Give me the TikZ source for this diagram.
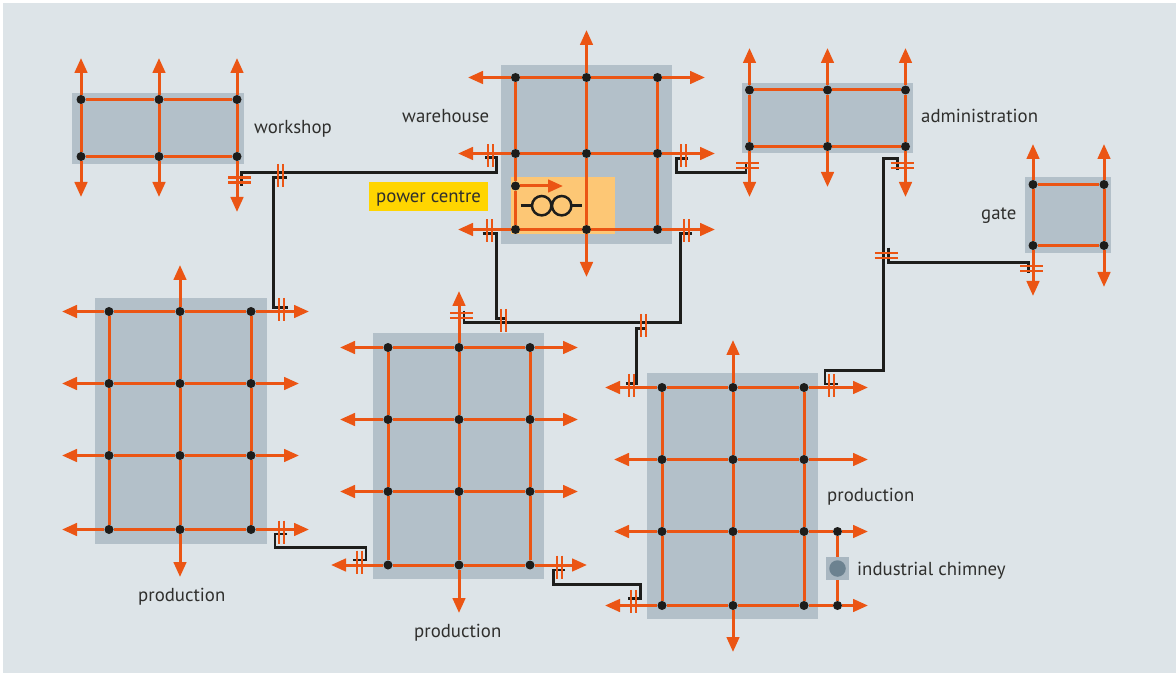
\documentclass[tikz,border=0pt]{standalone}
\usepackage{fontspec}
\setmainfont{PT Sans}
\usetikzlibrary{arrows.meta}
\definecolor{bgc}{HTML}{DDE4E8}
\definecolor{bld}{HTML}{B3C0C9}
\definecolor{org}{HTML}{EB5514}
\definecolor{blk}{HTML}{1D1D1B}
\definecolor{pwr}{HTML}{FDC775}
\definecolor{yel}{HTML}{FFD500}
\definecolor{chs}{HTML}{A9B7C1}
\definecolor{chd}{HTML}{6C8290}
\pgfdeclarelayer{back}
\pgfdeclarelayer{wires}
\pgfdeclarelayer{orange}
\pgfsetlayers{back,wires,orange,main}
\tikzset{
  bldg/.style={fill=bld,draw=none},
  jn/.style={circle,fill=blk,draw=none,minimum size=9pt,inner sep=0pt},
  gridline/.style={draw=org,line width=3pt},
  arr/.style={draw=org,line width=3pt,-{Triangle[length=15pt,width=12.5pt]}},
  wire/.style={draw=blk,line width=2.7pt,line join=miter},
  tickm/.style={draw=org,line width=2.3pt},
  lbl/.style={inner sep=0pt,anchor=base west,text=blk!92!white,font=\fontsize{18.8}{19}\selectfont},
}
\newcommand{\J}[3]{\node[jn] (#1) at (#2,#3) {};}
\newcommand{\Ar}[4]{\coordinate (#1) at (#3,#4);\begin{pgfonlayer}{orange}\draw[arr] (#2) -- (#1);\end{pgfonlayer}}
\newcommand{\Gl}[2]{\begin{pgfonlayer}{orange}\draw[gridline] (#1) -- (#2);\end{pgfonlayer}}
\newcommand{\Vt}[2]{\begin{pgfonlayer}{orange}\draw[tickm] (#1-2.5,#2-11.5) -- (#1-2.5,#2+11.5);\draw[tickm] (#1+2.5,#2-11.5) -- (#1+2.5,#2+11.5);\end{pgfonlayer}}
\newcommand{\Ht}[2]{\begin{pgfonlayer}{orange}\draw[tickm] (#1-11.5,#2-2.5) -- (#1+11.5,#2-2.5);\draw[tickm] (#1-11.5,#2+2.5) -- (#1+11.5,#2+2.5);\end{pgfonlayer}}
\begin{document}
\begin{tikzpicture}[x=1pt,y=-1pt]
\useasboundingbox (0,0) rectangle (1176,676);
\begin{pgfonlayer}{back}
\fill[white] (0,0) rectangle (1176,676);
\fill[bgc] (3,3) rectangle (1176,673);
\path[bldg] (72,93) rectangle (244,164);
\path[bldg] (501,65) rectangle (672,244);
\path[bldg] (742,83) rectangle (913,153);
\path[bldg] (1025,177) rectangle (1111,253);
\path[bldg] (95,298) rectangle (267,544);
\path[bldg] (373,333) rectangle (544,579);
\path[bldg] (647,373) rectangle (818,619);
\fill[pwr] (511,177) rectangle (615,234);
\fill[yel] (369,182) rectangle (488,211);
\end{pgfonlayer}

% workshop
\J{wa}{81}{99.5}\J{wb}{159}{99.5}\J{wc}{237}{99.5}\J{wd}{81}{156.5}\J{we}{159}{156.5}\J{wf}{237}{156.5}
\Gl{wa}{wb}\Gl{wb}{wc}\Gl{wd}{we}\Gl{we}{wf}\Gl{wa}{wd}\Gl{wb}{we}\Gl{wc}{wf}
\Ar{wu1}{wa}{81}{58}\Ar{wu2}{wb}{159}{58}\Ar{wu3}{wc}{237}{58}
\Ar{wd1}{wd}{81}{197}\Ar{wd2}{we}{159}{197}\Ar{wd3}{wf}{237}{212}
\Ht{239.5}{180}

% warehouse
\J{ha}{515.5}{77.5}\J{hb}{586.5}{77.5}\J{hc}{657.5}{77.5}
\J{hd}{515.5}{153.5}\J{he}{586.5}{153.5}\J{hf}{657.5}{153.5}
\J{hg}{515.5}{229.5}\J{hh}{586.5}{229.5}\J{hi}{657.5}{229.5}
\J{hp}{515.5}{186}
\Gl{ha}{hb}\Gl{hb}{hc}\Gl{hd}{he}\Gl{he}{hf}\Gl{hg}{hh}\Gl{hh}{hi}
\Gl{ha}{hd}\Gl{hd}{hp}\Gl{hp}{hg}\Gl{hb}{he}\Gl{he}{hh}\Gl{hc}{hf}\Gl{hf}{hi}
\Ar{hu}{hb}{586.5}{30}\Ar{hdn}{hh}{586.5}{277}
\Ar{hl1}{ha}{468}{77.5}\Ar{hr1}{hc}{705}{77.5}
\Ar{hl2}{hd}{458}{153.5}\Ar{hr2}{hf}{715}{153.5}
\Ar{hl3}{hg}{458}{229.5}\Ar{hr3}{hi}{715}{229.5}
\Ar{hpa}{hp}{563}{186}
\Vt{490.8}{156}\Vt{683.2}{156}\Vt{489.2}{231}\Vt{686.8}{231}
% fuse
\draw[blk,line width=2.5pt] (520.7,205.7) -- (532,205.7) (571.4,205.7) -- (581.7,205.7);
\draw[blk,line width=2.5pt] (541.7,205.7) circle[radius=9.7];
\draw[blk,line width=2.5pt] (561.7,205.7) circle[radius=9.7];

% administration
\J{aa}{749.5}{90}\J{ab}{827.5}{90}\J{ac}{905.5}{90}\J{ad}{749.5}{146.5}\J{ae}{827.5}{146.5}\J{af}{905.5}{146.5}
\Gl{aa}{ab}\Gl{ab}{ac}\Gl{ad}{ae}\Gl{ae}{af}\Gl{aa}{ad}\Gl{ab}{ae}\Gl{ac}{af}
\Ar{au1}{aa}{749.5}{48}\Ar{au2}{ab}{827.5}{48}\Ar{au3}{ac}{905.5}{48}
\Ar{ad1}{ad}{749.5}{197}\Ar{ad2}{ae}{827.5}{187}\Ar{ad3}{af}{905.5}{197}
\Ht{747.5}{165.8}\Ht{902}{165.2}

% gate
\J{ga}{1033}{184.5}\J{gb}{1104}{184.5}\J{gc}{1033}{245.5}\J{gd}{1104}{245.5}
\Gl{ga}{gb}\Gl{gc}{gd}\Gl{ga}{gc}\Gl{gb}{gd}
\Ar{gu1}{ga}{1033}{144}\Ar{gu2}{gb}{1104}{144}\Ar{gd1}{gc}{1033}{296}\Ar{gd2}{gd}{1104}{287}
\Ht{1031.7}{268.5}

% production 1
\foreach \c/\x in {a/109,b/180,c/251}{\foreach \r/\y in {1/311.5,2/383.5,3/455.5,4/529.5}{\J{p\c\r}{\x}{\y}}}
\foreach \c in {a,b,c}{\Gl{p\c1}{p\c2}\Gl{p\c2}{p\c3}\Gl{p\c3}{p\c4}}
\foreach \r in {1,2,3,4}{\Gl{pa\r}{pb\r}\Gl{pb\r}{pc\r}}
\Ar{pu}{pb1}{180}{265}\Ar{pd}{pb4}{180}{577}
\Ar{pl1}{pa1}{62}{311.5}\Ar{pl2}{pa2}{62}{383.5}\Ar{pl3}{pa3}{62}{455.5}\Ar{pl4}{pa4}{62}{529.5}
\Ar{pr1}{pc1}{309}{311.5}\Ar{pr2}{pc2}{299}{383.5}\Ar{pr3}{pc3}{299}{455.5}\Ar{pr4}{pc4}{309}{529.5}
\Vt{281.5}{309.5}\Vt{281.8}{532}

% production 2
\foreach \c/\x in {a/388,b/459,c/530}{\foreach \r/\y in {1/347.5,2/419.5,3/491.5,4/565}{\J{q\c\r}{\x}{\y}}}
\foreach \c in {a,b,c}{\Gl{q\c1}{q\c2}\Gl{q\c2}{q\c3}\Gl{q\c3}{q\c4}}
\foreach \r in {1,2,3,4}{\Gl{qa\r}{qb\r}\Gl{qb\r}{qc\r}}
\Ar{qu}{qb1}{459}{291}\Ar{qd}{qb4}{459}{613}
\Ar{ql1}{qa1}{340}{347.5}\Ar{ql2}{qa2}{340}{419.5}\Ar{ql3}{qa3}{340}{491.5}\Ar{ql4}{qa4}{331}{565}
\Ar{qr1}{qc1}{578}{347.5}\Ar{qr2}{qc2}{578}{419.5}\Ar{qr3}{qc3}{578}{491.5}\Ar{qr4}{qc4}{587}{565}
\Ht{461.5}{315.8}\Vt{359.8}{562.2}\Vt{559.8}{567.2}

% production 3
\foreach \c/\x in {a/662,b/733,c/804}{\foreach \r/\y in {1/387.5,2/459.5,3/531.5,4/605.5}{\J{s\c\r}{\x}{\y}}}
\foreach \c in {a,b,c}{\Gl{s\c1}{s\c2}\Gl{s\c2}{s\c3}\Gl{s\c3}{s\c4}}
\foreach \r in {1,2,3,4}{\Gl{sa\r}{sb\r}\Gl{sb\r}{sc\r}}
\J{sx}{837.5}{531.5}\J{sy}{837.5}{605.5}
\Gl{sc3}{sx}\Gl{sc4}{sy}\Gl{sx}{sy}
\Ar{su}{sb1}{733}{340}\Ar{sd}{sb4}{733}{652}
\Ar{sl1}{sa1}{605}{387.5}\Ar{sl2}{sa2}{614}{459.5}\Ar{sl3}{sa3}{614}{531.5}\Ar{sl4}{sa4}{605}{605.5}
\Ar{sr1}{sc1}{868}{387.5}\Ar{sr2}{sc2}{868}{459.5}\Ar{sr3}{sx}{868}{531.5}\Ar{sr4}{sy}{868}{605.5}
\Vt{631.5}{385.5}\Vt{831.8}{385.5}\Vt{633.5}{601.3}

% chimney
\node[fill=chs,minimum size=23pt,inner sep=0pt] (chsq) at (837.5,568.5) {};
\node[circle,fill=chd,minimum size=16.5pt,inner sep=0pt] (chc) at (837.5,568.5) {};

% wires
\begin{pgfonlayer}{wires}
\foreach \n/\x/\y in {a1/241.7/186,a2/241.7/172.7,a3/496.7/172.7,a4/496.7/157.7,a5/485/157.7,
 b1/286.7/177.7,b2/273.3/177.7,b3/273.3/307.7,b4/288/307.7,
 c1/482.7/233.3,c2/496.4/233.3,c3/496.4/318.3,c4/507.3/318.3,
 d1/464/310.7,d2/464/322.7,d3/680.4/322.7,d4/680.4/233.3,d5/692.3/233.3,
 e1/647.3/328.3,e2/636.7/328.3,e3/636.7/383.3,e4/626/383.3,
 f1/688.3/158.3,f2/676.7/158.3,f3/676.7/172.7,f4/746/172.7,f5/746/161.7,
 g1/837.7/384,g2/825/384,g3/825/370.7,g4/883.5/370.7,g5/883.5/158.3,g6/897.7/158.3,g7/897.7/170,
 i1/888.7/247.7,i2/888.7/262.3,i3/1028.3/262.3,i4/1028.3/273.3,
 j1/287.3/534,j2/275/534,j3/275/547.7,j4/366/547.7,j5/366/560,j6/353.3/560,
 k1/565/570,k2/553.3/570,k3/553.3/584.7,k4/640.7/584.7,k5/640.7/598.3,k6/627.7/598.3}
 {\coordinate (\n) at (\x,\y);}
\draw[wire] (a1)--(a2)--(a3)--(a4)--(a5);
\draw[wire] (b1)--(b2)--(b3)--(b4);
\draw[wire] (c1)--(c2)--(c3)--(c4);
\draw[wire] (d1)--(d2)--(d3)--(d4)--(d5);
\draw[wire] (e1)--(e2)--(e3)--(e4);
\draw[wire] (f1)--(f2)--(f3)--(f4)--(f5);
\draw[wire] (g1)--(g2)--(g3)--(g4)--(g5)--(g6)--(g7);
\draw[wire] (i1)--(i2)--(i3)--(i4);
\draw[wire] (j1)--(j2)--(j3)--(j4)--(j5)--(j6);
\draw[wire] (k1)--(k2)--(k3)--(k4)--(k5)--(k6);
\end{pgfonlayer}
\Vt{280.8}{175.5}\Vt{503.2}{320.3}\Vt{643.5}{325.3}\Ht{886}{255.2}

% labels
\node[lbl] (lw) at (254,134) {workshop};
\node[lbl] (lh) at (402,123) {warehouse};
\node[lbl] (lp) at (376,203) {power centre};
\node[lbl] (la) at (921,123) {administration};
\node[lbl] (lg) at (981,220) {gate};
\node[lbl] (l1) at (138,601) {production};
\node[lbl] (l2) at (414,637) {production};
\node[lbl] (l3) at (827,501) {production};
\node[lbl] (lc) at (857,575) {industrial chimney};
\end{tikzpicture}
\end{document}
